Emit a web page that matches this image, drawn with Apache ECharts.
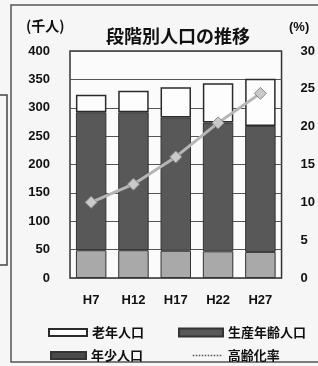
<!DOCTYPE html>
<html>
<head>
<meta charset="utf-8">
<script src="https://cdn.jsdelivr.net/npm/echarts@6/dist/echarts.min.js"></script>
<style>
  html, body { margin: 0; padding: 0; background: #f6f6f6; }
  #chart { width: 318px; height: 366px; }
</style>
</head>
<body>
<div id="chart"></div>
<script>
// 段階別人口の推移（千人）と高齢化率（%）
var years = ["H7", "H12", "H17", "H22", "H27"];
var youngPop = [49, 49, 48, 47, 46];        // 年少人口
var workingPop = [243, 243, 235, 227, 222]; // 生産年齢人口
var elderlyPop = [31, 38, 53, 69, 83];      // 老年人口
var agingRate = [10.0, 12.4, 16.0, 20.5, 24.4]; // 高齢化率
var leftTicks = { min: 0, max: 400, interval: 50 };
var rightTicks = { min: 0, max: 30, interval: 5 };

var FONT = "Liberation Sans, Noto Sans CJK JP, sans-serif";
var JP = "Noto Sans CJK JP, sans-serif";

var myChart = echarts.init(document.getElementById("chart"));
myChart.setOption({
  backgroundColor: "#f6f6f6",
  animation: false,
  title: {
    text: "段階別人口の推移",
    left: 101,
    top: 22,
    textStyle: { fontFamily: JP, fontSize: 18, fontWeight: "bold", color: "#111" }
  },
  graphic: [
    // 外枠
    { type: "rect", shape: { x: 11, y: 5, width: 320, height: 357 },
      style: { fill: "none", stroke: "#555", lineWidth: 1.5 }, silent: true },
    // 左側の切れた表
    { type: "rect", shape: { x: -10, y: 95, width: 17, height: 170 },
      style: { fill: "none", stroke: "#444", lineWidth: 1.5 }, silent: true },
    { type: "text", left: 26, top: 19,
      style: { text: "(千人)", fontFamily: JP, fontSize: 14, fontWeight: "bold", fill: "#111" } },
    { type: "text", left: 289, top: 21,
      style: { text: "(%)", fontFamily: FONT, fontSize: 13, fontWeight: "bold", fill: "#111" } }
  ],
  grid: {
    left: 70,
    right: 32,
    top: 51,
    bottom: 88,
    show: true,
    backgroundColor: "#fbfbfb",
    borderColor: "#333",
    borderWidth: 1.5
  },
  legend: [
    { data: ["老年人口"], left: 43, top: 321, icon: "rect", itemWidth: 38, itemHeight: 7,
      textStyle: { fontFamily: JP, fontSize: 13, fontWeight: "bold", color: "#111" } },
    { data: ["生産年齢人口"], left: 173, top: 321, icon: "rect", itemWidth: 44, itemHeight: 8,
      textStyle: { fontFamily: JP, fontSize: 13, fontWeight: "bold", color: "#111" } },
    { data: [{ name: "年少人口", itemStyle: { color: "#4a4a4a" } }], left: 45, top: 344, icon: "rect",
      itemWidth: 35, itemHeight: 7,
      textStyle: { fontFamily: JP, fontSize: 13, fontWeight: "bold", color: "#111" } },
    { data: [{ name: "高齢化率", itemStyle: { opacity: 0 },
               lineStyle: { type: "dotted", color: "#555", width: 1.5 } }],
      left: 187, top: 344, itemWidth: 30, itemHeight: 8,
      textStyle: { fontFamily: JP, fontSize: 13, fontWeight: "bold", color: "#111" } }
  ],
  xAxis: {
    type: "category",
    data: years,
    axisLine: { show: false },
    axisTick: { show: false },
    axisLabel: { margin: 16, fontFamily: FONT, fontSize: 13, fontWeight: "bold", color: "#111" }
  },
  yAxis: [
    {
      type: "value",
      min: leftTicks.min,
      max: leftTicks.max,
      interval: leftTicks.interval,
      axisLine: { show: false },
      axisTick: { show: false },
      splitLine: { lineStyle: { color: "#555", width: 1 } },
      axisLabel: { margin: 20, fontFamily: FONT, fontSize: 13, fontWeight: "bold", color: "#111" }
    },
    {
      type: "value",
      min: rightTicks.min,
      max: rightTicks.max,
      interval: rightTicks.interval,
      axisLine: { show: false },
      axisTick: { show: false },
      splitLine: { show: false },
      axisLabel: { margin: 19, fontFamily: FONT, fontSize: 13, fontWeight: "bold", color: "#111" }
    }
  ],
  series: [
    {
      name: "年少人口",
      type: "bar",
      stack: "pop",
      barWidth: "72%",
      data: youngPop,
      itemStyle: { color: "#a9a9a9", borderColor: "#333", borderWidth: 1 }
    },
    {
      name: "生産年齢人口",
      type: "bar",
      stack: "pop",
      data: workingPop,
      itemStyle: { color: "#585858", borderColor: "#333", borderWidth: 1 }
    },
    {
      name: "老年人口",
      type: "bar",
      stack: "pop",
      data: elderlyPop,
      itemStyle: { color: "#fdfdfd", borderColor: "#2a2a2a", borderWidth: 1.5 }
    },
    {
      name: "高齢化率",
      type: "line",
      yAxisIndex: 1,
      data: agingRate,
      symbol: "diamond",
      symbolSize: 12,
      lineStyle: { color: "#b5b5b5", width: 3 },
      itemStyle: { color: "#c9c9c9", borderColor: "#8a8a8a", borderWidth: 1 },
      z: 5
    }
  ]
});
</script>
</body>
</html>
